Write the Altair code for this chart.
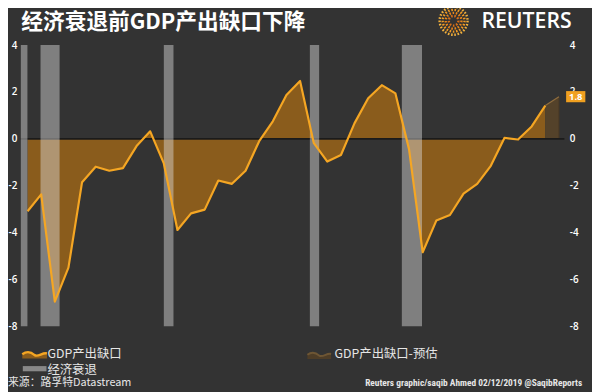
import altair as alt
import pandas as pd

# ---------------- data ----------------
years = list(range(1980, 2019))
gap = [-3.09, -2.37, -6.95, -5.50, -1.85, -1.19, -1.36, -1.25, -0.31, 0.32,
       -1.05, -3.89, -3.18, -3.02, -1.78, -1.92, -1.36, -0.10, 0.75, 1.87,
       2.47, -0.17, -0.97, -0.69, 0.67, 1.73, 2.29, 1.94, -0.45, -4.84,
       -3.49, -3.25, -2.34, -1.92, -1.15, 0.04, -0.03, 0.53, 1.42]
fc_years = [2018, 2019]
fc_gap = [1.42, 1.80]

rec_start = [1979.935, 1981.38, 1990.43, 2001.15, 2007.90]
rec_end = [1980.42, 1982.78, 1991.14, 2001.83, 2009.38]

x_ticks = [1980, 1985, 1990, 1995, 2000, 2005, 2010, 2015]
y_ticks = [-8, -6, -4, -2, 0, 2, 4]

title_text = "经济衰退前GDP产出缺口下降"
logo_text = "REUTERS"
legend_labels = ["GDP产出缺口", "经济衰退", "GDP产出缺口-预估"]
source_text = "来源：路孚特Datastream"
credit_text = "Reuters graphic/saqib Ahmed 02/12/2019 @SaqibReports"

# ---------------- styling ----------------
BG = "#333333"
ORANGE = "#f5a623"
AREA = "#8a5c1c"
FC_AREA = "#54422a"
FC_LINE = "#8f6d3e"
W, H = 551, 285
CJK = "Noto Sans CJK SC"
LBL = "Open Sans"

df = pd.DataFrame({"year": years, "gap": gap})
fc = pd.DataFrame({"year": fc_years, "gap": fc_gap})
rec = pd.DataFrame({"start": rec_start, "end": rec_end})

xscale = alt.Scale(domain=[1979.935, 2019.83], nice=False, zero=False)
yscale = alt.Scale(domain=[-8, 4], nice=False, zero=False)

x_axis = alt.Axis(values=x_ticks, format="d", labelFlush=False, domain=False,
                  ticks=False, grid=False, labelPadding=4, title=None)
yl_axis = alt.Axis(values=y_ticks, orient="left", domain=False, ticks=False,
                   grid=False, labelPadding=4, title=None,
                   labelExpr="'' + datum.value")
yr_axis = alt.Axis(values=y_ticks, orient="right", domain=False, ticks=False,
                   grid=False, labelPadding=5, title=None,
                   labelExpr="'' + datum.value")

X = alt.X("xpos:Q", scale=xscale, axis=None)
off = "datum.year + 0.43"

area = alt.Chart(df).transform_calculate(xpos=off).mark_area(
    color=AREA, opacity=1).encode(
    x=alt.X("xpos:Q", scale=xscale, axis=x_axis),
    y=alt.Y("gap:Q", scale=yscale, axis=yl_axis),
    y2=alt.datum(0),
)

fc_area = alt.Chart(fc).transform_calculate(xpos=off).mark_area(
    color=FC_AREA).encode(
    x=X, y=alt.Y("gap:Q", scale=yscale, axis=None), y2=alt.datum(0))

fc_line = alt.Chart(fc).transform_calculate(xpos=off).mark_line(
    color=FC_LINE, strokeWidth=1.2).encode(
    x=X, y=alt.Y("gap:Q", scale=yscale, axis=None))

fc_edge = alt.Chart(fc.tail(1)).transform_calculate(xpos=off).mark_rule(
    color="#4a3a26", strokeWidth=1).encode(
    x=X, y=alt.Y("gap:Q", scale=yscale, axis=None), y2=alt.datum(0))

zero = alt.Chart(pd.DataFrame({"z": [0]})).mark_rule(
    color="#1b1b1b", strokeWidth=1.6).encode(
    y=alt.Y("z:Q", scale=yscale, axis=yr_axis),
    x=alt.value(0), x2=alt.value(W))

bands = alt.Chart(rec).mark_rect(color="#dcdcdc", opacity=0.45).encode(
    x=alt.X("start:Q", scale=xscale, axis=None), x2="end:Q",
    y=alt.value(0), y2=alt.value(H))

line = alt.Chart(df).transform_calculate(xpos=off).mark_line(
    color=ORANGE, strokeWidth=2.2, strokeJoin="round").encode(
    x=X, y=alt.Y("gap:Q", scale=yscale, axis=None))

# end-value badge
last = fc.tail(1).copy()
last["txt"] = last["gap"].map(lambda v: f"{v:.1f}")
badge = alt.Chart(last).mark_point(
    shape="M-1,-0.58L1,-0.58L1,0.58L-1,0.58Z", size=380, filled=True,
    color="#f0a020", opacity=1).encode(
    x=alt.value(562.5), y=alt.Y("gap:Q", scale=yscale, axis=None))
badge_txt = alt.Chart(last).mark_text(
    color="white", fontSize=9.5, fontWeight="bold", font=LBL).encode(
    x=alt.value(562.5), y=alt.Y("gap:Q", scale=yscale, axis=None),
    text="txt:N")

def txt(s, x, y, **kw):
    return alt.Chart(pd.DataFrame({"t": [s]})).mark_text(**kw).encode(
        text="t:N", x=alt.value(x), y=alt.value(y))

title = txt(title_text, 0.5, -23.3, font=CJK, fontSize=22, fontWeight="bold",
            color="white", align="left", baseline="middle")
logo = txt(logo_text, 467, -23, font="Open Sans", fontSize=21.5,
           fontWeight=600, color="white", align="left", baseline="middle")

ring_r = [16, 12.5, 9, 5.5]
ring_c = ["#f5b23c", "#f29a22", "#e8861b", "#d86f17"]
rings = []
for r, c in zip(ring_r, ring_c):
    rings.append(alt.Chart(pd.DataFrame({"k": [0]})).mark_point(
        shape="circle", size=3.14159 * r * r, filled=False, color=c,
        strokeWidth=2.4, strokeDash=[1.6, 1.7], opacity=1).encode(
        x=alt.value(438.7), y=alt.value(-24.7)))

# legend
wave_fill = "M-1,-0.05C-0.6,-0.35,-0.3,-0.25,0,0.02C0.3,0.2,0.6,-0.2,1,-0.12L1,0.3L-1,0.3Z"
wave_line = "M-1,-0.05C-0.6,-0.35,-0.3,-0.25,0,0.02C0.3,0.2,0.6,-0.2,1,-0.12"

def sym(path, x, y, size, **kw):
    return alt.Chart(pd.DataFrame({"k": [0]})).mark_point(
        shape=path, size=size, opacity=1, **kw).encode(
        x=alt.value(x), y=alt.value(y))

leg = [
    sym(wave_fill, 14, 314, 625, filled=True, color="#8a5c1c"),
    sym(wave_line, 14, 314, 625, filled=False, color=ORANGE, strokeWidth=2.4),
    sym("M-1,-0.22L1,-0.22L1,0.22L-1,0.22Z", 14, 328, 576, filled=True,
        color="#888888"),
    sym(wave_fill, 302.5, 314.5, 576, filled=True, color="#4e3d27"),
    sym(wave_line, 302.5, 314.5, 576, filled=False, color="#6e5634",
        strokeWidth=2),
    txt(legend_labels[0], 27, 313.2, font=CJK, fontSize=12.5, color="#e6e6e6",
        align="left", baseline="middle"),
    txt(legend_labels[1], 27, 329, font=CJK, fontSize=12.5, color="#e6e6e6",
        align="left", baseline="middle"),
    txt(legend_labels[2], 318, 313.2, font=CJK, fontSize=12.5, color="#e6e6e6",
        align="left", baseline="middle"),
]

source = txt(source_text, -13, 342.5, font=CJK, fontSize=11, color="#e6e6e6",
             align="left", baseline="middle")
credit = txt(credit_text, 569, 342.5,
             font="Liberation Sans Narrow, Roboto Condensed, Liberation Sans",
             fontSize=9.5, fontWeight="bold", color="#e6e6e6", align="right",
             baseline="middle")

chart = alt.layer(
    area, fc_area, fc_edge, fc_line, zero, bands, line, badge, badge_txt,
    title, logo, *rings, *leg, source, credit,
).resolve_axis(y="independent").properties(
    width=W, height=H, background=BG,
    padding={"left": 13, "top": 35, "right": 28, "bottom": 64},
    autosize=alt.AutoSizeParams(type="none"),
).configure_view(stroke=None).configure_axis(
    labelColor="white", labelFont=LBL, labelFontSize=10, labelFontWeight=600,
)

chart.save("out.html", embed_options={"renderer": "svg", "actions": False})
